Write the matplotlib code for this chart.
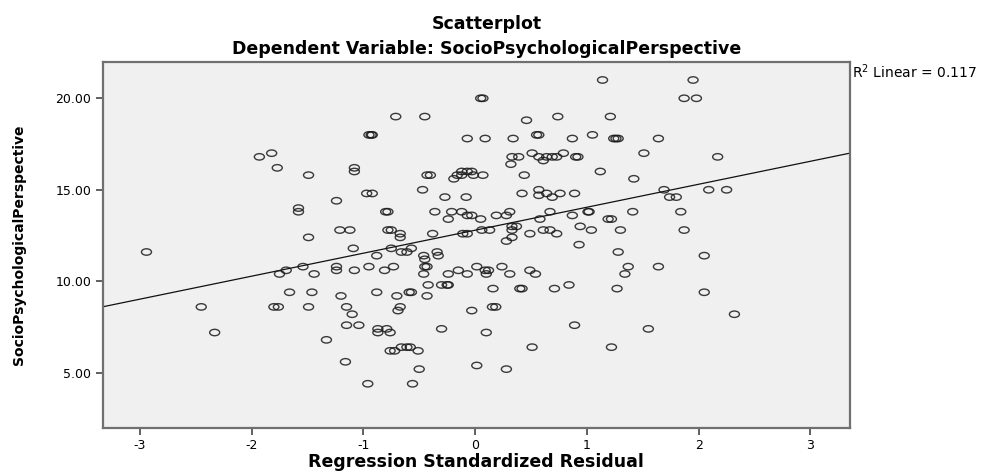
import matplotlib
matplotlib.use("Agg")
import matplotlib.pyplot as plt
import numpy as np
from matplotlib.path import Path
from matplotlib.transforms import Affine2D

# standardized residuals (x) and SocioPsychologicalPerspective (y)
resid = [
    -1.93, -1.82, -1.77, -1.49, -1.24, -1.58, -1.58, -1.08, -1.08, -1.21, -1.12,
    1.14, 0.05, 0.07, -0.71, -0.45, 0.46, 0.74, 1.21, -0.95, -0.93, -0.92,
    -0.07, 0.09, 0.34, 0.55, 0.57, 0.87, 1.05, 1.24, 1.26, 1.28, 1.64, 1.51, 2.17,
    -0.43, -0.40, -0.16, -0.12, -0.07, -0.03, -0.19, -0.12, -0.015, 0.07,
    0.33, 0.39, 0.32, 0.44, 0.51, 0.57, 0.61, 0.64, 0.69, 0.73, 0.79, 0.90, 0.92, 1.12,
    -0.97, -0.92, -0.47, -0.27, -0.08, 0.42, 0.57, 0.57, 0.64, 0.69, 0.76, 0.89,
    -0.80, -0.78, -0.36, -0.24, -0.21, -0.12, -0.07, -0.03, 0.05, 0.19, 0.28, 0.31,
    0.58, 0.67, 0.87, 1.01, 1.19, -0.78, -0.75, 0.33, 0.37, 0.61, 0.67, 0.94,
    1.95, 1.87, 1.98, 1.42, 1.69, 1.74, 1.80, 2.09, 2.25, 1.02, 1.22, 1.41, 1.84,
    1.04, 1.30, 1.87,
    -1.49, -2.94, -1.09, -1.24, -1.24, -1.08, -1.54, -1.69, -1.75, -1.44, -1.66,
    -1.46, -1.20, -2.45, -1.80, -1.76, -1.49, -1.15, -1.10, -1.15, -1.04, -2.33,
    -1.33, -1.16,
    -0.67, -0.67, -0.38, -0.11, -0.07, 0.06, 0.13, 0.33, 0.28, 0.33, 0.49, 0.73,
    0.93, -0.88, -0.75, -0.66, -0.61, -0.57, -0.46, -0.45, -0.34, -0.33,
    -0.95, -0.81, -0.73, -0.46, -0.45, -0.43, -0.24, -0.15, -0.07, 0.015, 0.09,
    0.10, 0.12, 0.24, 0.31, 0.49, 0.54,
    -0.88, -0.70, -0.59, -0.57, -0.43, -0.42, -0.30, -0.25, -0.24, 0.16, 0.40,
    0.42, 0.71, 0.84, -0.67, -0.69, -0.03, 0.155, 0.185,
    -0.87, -0.79, -0.87, -0.76, -0.30, 0.10, 0.89, -0.76, -0.72, -0.66, -0.61,
    -0.58, -0.51, 0.51, 1.22, -0.50, 0.015, 0.28, -0.96, -0.56,
    1.28, 2.05, 1.37, 1.64, 1.34, 1.27, 2.05, 2.32, 1.55,
]
socio = [
    16.8, 17.0, 16.2, 15.8, 14.4, 14.0, 13.8, 16.2, 16.0, 12.8, 12.8,
    21.0, 20.0, 20.0, 19.0, 19.0, 18.8, 19.0, 19.0, 18.0, 18.0, 18.0,
    17.8, 17.8, 17.8, 18.0, 18.0, 17.8, 18.0, 17.8, 17.8, 17.8, 17.8, 17.0, 16.8,
    15.8, 15.8, 15.8, 16.0, 16.0, 16.0, 15.6, 15.8, 15.8, 15.8,
    16.8, 16.8, 16.4, 15.8, 17.0, 16.8, 16.6, 16.8, 16.8, 16.8, 17.0, 16.8, 16.8, 16.0,
    14.8, 14.8, 15.0, 14.6, 14.6, 14.8, 15.0, 14.7, 14.8, 14.6, 14.8, 14.8,
    13.8, 13.8, 13.8, 13.4, 13.8, 13.8, 13.6, 13.6, 13.4, 13.6, 13.6, 13.8,
    13.4, 13.8, 13.6, 13.8, 13.4, 12.8, 12.8, 13.0, 13.0, 12.8, 12.8, 13.0,
    21.0, 20.0, 20.0, 15.6, 15.0, 14.6, 14.6, 15.0, 15.0, 13.8, 13.4, 13.8, 13.8,
    12.8, 12.8, 12.8,
    12.4, 11.6, 11.8, 10.8, 10.6, 10.6, 10.8, 10.6, 10.4, 10.4, 9.4,
    9.4, 9.2, 8.6, 8.6, 8.6, 8.6, 8.6, 8.2, 7.6, 7.6, 7.2,
    6.8, 5.6,
    12.6, 12.4, 12.6, 12.6, 12.6, 12.8, 12.8, 12.8, 12.2, 12.4, 12.6, 12.6,
    12.0, 11.4, 11.8, 11.6, 11.6, 11.8, 11.4, 11.2, 11.6, 11.4,
    10.8, 10.6, 10.8, 10.4, 10.8, 10.8, 10.4, 10.6, 10.4, 10.8, 10.6,
    10.4, 10.6, 10.8, 10.4, 10.6, 10.4,
    9.4, 9.2, 9.4, 9.4, 9.2, 9.8, 9.8, 9.8, 9.8, 9.6, 9.6,
    9.6, 9.6, 9.8, 8.6, 8.4, 8.4, 8.6, 8.6,
    7.4, 7.4, 7.2, 7.2, 7.4, 7.2, 7.6, 6.2, 6.2, 6.4, 6.4,
    6.4, 6.2, 6.4, 6.4, 5.2, 5.4, 5.2, 4.4, 4.4,
    11.6, 11.4, 10.8, 10.8, 10.4, 9.6, 9.4, 8.2, 7.4,
]

# fit line
fit_intercept = 12.79
fit_slope = 1.256
r2_linear = 0.117

y_ticks = [5.0, 10.0, 15.0, 20.0]
x_ticks = [-3, -2, -1, 0, 1, 2, 3]

plt.rcParams["font.family"] = ["DejaVu Sans"]

fig = plt.figure(figsize=(9.87, 4.73), dpi=100)
ax = fig.add_axes([0.1039, 0.0958, 0.7573, 0.7738])
ax.set_facecolor("#f0f0f0")

# flattened circle, like the SPSS marker
oval = Path.unit_circle().transformed(Affine2D().scale(1.0, 0.64))
ax.scatter(resid, socio, marker=oval, s=52, facecolors="none",
           edgecolors="#1a1a1a", linewidths=1.0, alpha=0.85, zorder=3)

xlim = (-3.333, 3.354)
xs = np.array(xlim)
ax.plot(xs, fit_intercept + fit_slope * xs, color="#111111", lw=0.9, zorder=2)

ax.set_xlim(*xlim)
ax.set_ylim(2.0, 22.0)
ax.set_xticks(x_ticks)
ax.set_xticklabels([str(t) for t in x_ticks])
ax.set_yticks(y_ticks)
ax.set_yticklabels(["%.2f" % t for t in y_ticks])
ax.tick_params(axis="both", direction="out", length=5, width=1.2,
               color="#444444", labelsize=9, pad=3)

for sp in ax.spines.values():
    sp.set_color("#707070")
    sp.set_linewidth(1.6)

ax.set_xlabel("Regression Standardized Residual", fontsize=12.5, fontweight="bold")
ax.xaxis.set_label_coords(0.5, -0.07)
ax.set_ylabel("SocioPsychologicalPerspective", fontsize=10, fontweight="bold")
ax.yaxis.set_label_coords(-0.103, 0.5)

fig.text(0.4934, 0.949, "Scatterplot", ha="center", va="center",
         fontsize=12.5, fontweight="bold")
fig.text(0.4934, 0.896, "Dependent Variable: SocioPsychologicalPerspective",
         ha="center", va="center", fontsize=12.5, fontweight="bold")

fig.text(0.863, 0.849, "R$^2$ Linear = %.3f" % r2_linear, ha="left", va="center",
         fontsize=10)

plt.savefig("out.png", dpi=100)
